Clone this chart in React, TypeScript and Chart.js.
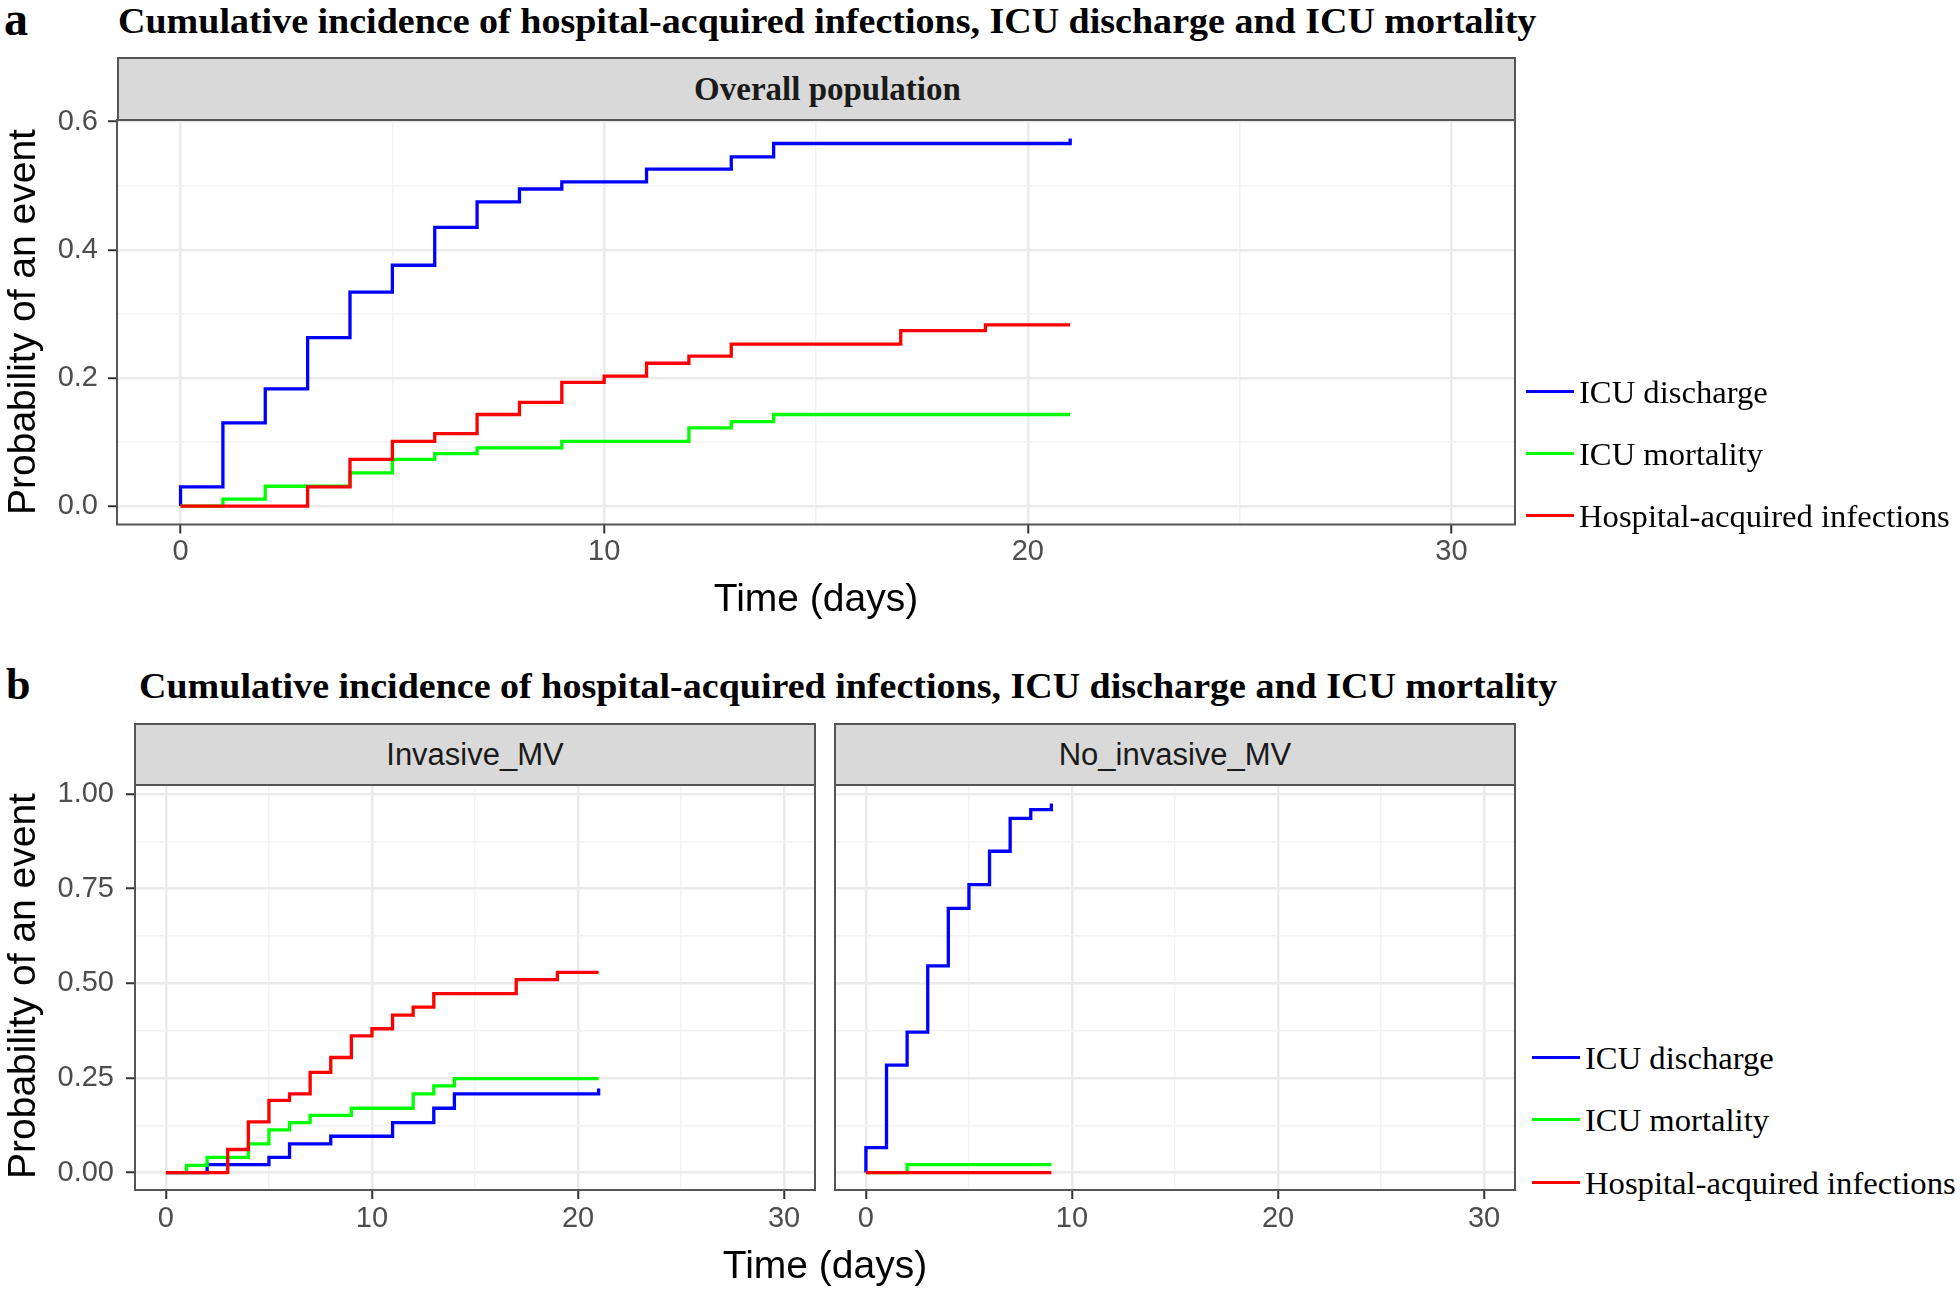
import React, { useEffect, useRef } from 'react';
import { Chart, registerables } from 'chart.js';

Chart.register(...registerables);

const SANS = '"Liberation Sans", Arial, Helvetica, sans-serif';
const SERIF = '"Liberation Serif", "Times New Roman", Times, serif';

// ---------------- text ----------------
const TITLE = 'Cumulative incidence of hospital-acquired infections, ICU discharge and ICU mortality';
const X_TITLE = 'Time (days)';
const Y_TITLE = 'Probability of an event';
const STRIP_A = 'Overall population';
const STRIP_B = ['Invasive_MV', 'No_invasive_MV'];
const seriesLabels = ['ICU discharge', 'ICU mortality', 'Hospital-acquired infections'];
const seriesColors = ['#0000ff', '#00ff00', '#ff0000'];

// ---------------- ticks ----------------
const xMajor = [0, 10, 20, 30];
const xMinor = [5, 15, 25];
const aYMajor = [0, 0.2, 0.4, 0.6];
const aYMinor = [0.1, 0.3, 0.5];
const bYMajor = [0, 0.25, 0.5, 0.75, 1];
const bYMinor = [0.125, 0.375, 0.625, 0.875];

// ---------------- data: panel a (overall population) ----------------
const aDischargeT = [0, 0, 1, 2, 3, 4, 5, 6, 7, 8, 9, 11, 13, 14, 21];
const aDischargeY = [0, 0.03, 0.13, 0.183, 0.263, 0.334, 0.376, 0.435, 0.475, 0.495, 0.506, 0.526, 0.545, 0.566, 0.574];
const aMortalityT = [0, 1, 2, 4, 5, 6, 7, 9, 12, 13, 14, 21];
const aMortalityY = [0, 0.011, 0.031, 0.052, 0.073, 0.082, 0.091, 0.101, 0.122, 0.132, 0.143, 0.143];
const aInfectionT = [0, 3, 4, 5, 6, 7, 8, 9, 10, 11, 12, 13, 17, 19, 21];
const aInfectionY = [0, 0.03, 0.073, 0.101, 0.113, 0.143, 0.162, 0.193, 0.203, 0.223, 0.234, 0.253, 0.274, 0.283, 0.283];

// ---------------- data: panel b, Invasive_MV ----------------
const bInvDischargeT = [0, 2, 5, 6, 8, 11, 13, 14, 21];
const bInvDischargeY = [0, 0.021, 0.04, 0.076, 0.096, 0.132, 0.17, 0.208, 0.222];
const bInvMortalityT = [0, 1, 2, 4, 5, 6, 7, 9, 12, 13, 14, 21];
const bInvMortalityY = [0, 0.019, 0.04, 0.076, 0.113, 0.132, 0.151, 0.17, 0.208, 0.229, 0.248, 0.248];
const bInvInfectionT = [0, 3, 4, 5, 6, 7, 8, 9, 10, 11, 12, 13, 17, 19, 21];
const bInvInfectionY = [0, 0.061, 0.134, 0.191, 0.208, 0.265, 0.304, 0.361, 0.38, 0.416, 0.437, 0.473, 0.51, 0.529, 0.529];

// ---------------- data: panel b, No_invasive_MV ----------------
const bNoDischargeT = [0, 0, 1, 2, 3, 4, 5, 6, 7, 8, 9];
const bNoDischargeY = [0, 0.066, 0.284, 0.371, 0.546, 0.698, 0.761, 0.849, 0.936, 0.959, 0.975];
const bNoMortalityT = [0, 2, 9];
const bNoMortalityY = [0, 0.021, 0.021];
const bNoInfectionT = [0, 9];
const bNoInfectionY = [0, 0];

type Series = { t: number[]; y: number[] };

const toPoints = (s: Series) => s.t.map((x, i) => ({ x, y: s.y[i] }));

const borderPlugin = {
  id: 'panelBorder',
  afterDraw(chart: any) {
    const { ctx, chartArea: a } = chart;
    ctx.save();
    ctx.strokeStyle = '#555555';
    ctx.lineWidth = 2;
    ctx.strokeRect(a.left, a.top, a.right - a.left, a.bottom - a.top);
    ctx.restore();
  },
};

type PanelProps = {
  left: number;
  top: number;
  width: number;
  height: number;
  series: Series[];
  yMin: number;
  yMax: number;
  yMajor: number[];
  yMinor: number[];
  yDigits: number;
  showYAxis: boolean;
  yAxisWidth: number;
  xAxisHeight: number;
  padTop: number;
  padRight: number;
  yLabelPad: number;
  xLabelPad: number;
};

function Panel(p: PanelProps) {
  const ref = useRef<HTMLCanvasElement | null>(null);
  useEffect(() => {
    const canvas = ref.current;
    if (!canvas) return;
    const xTicks = [...xMajor, ...xMinor].sort((a, b) => a - b);
    const yTicks = [...p.yMajor, ...p.yMinor].sort((a, b) => a - b);
    const isXMajor = (v: number) => xMajor.includes(v);
    const isYMajor = (v: number) => p.yMajor.includes(v);
    const tickFont = { family: SANS, size: 29 };
    const datasets = p.series.map((s, i) => ({
      label: seriesLabels[i],
      data: toPoints(s),
      borderColor: seriesColors[i],
      backgroundColor: seriesColors[i],
      borderWidth: 3.3,
      pointRadius: 0,
      stepped: 'before' as const,
      fill: false,
      order: 2 - i,
    }));
    const chart = new Chart(canvas, {
      type: 'line',
      data: { datasets },
      options: {
        animation: false,
        responsive: false,
        devicePixelRatio: 1,
        events: [],
        layout: {
          autoPadding: false,
          padding: { left: 0, top: p.padTop, right: p.padRight, bottom: 0 },
        },
        plugins: {
          legend: { display: false },
          tooltip: { enabled: false },
          title: { display: false },
        },
        scales: {
          x: {
            type: 'linear',
            min: -1.5,
            max: 31.5,
            afterBuildTicks: (s: any) => {
              s.ticks = xTicks.map((v) => ({ value: v }));
            },
            afterFit: (s: any) => {
              s.height = p.xAxisHeight;
              s.paddingLeft = 0;
              s.paddingRight = 0;
            },
            border: { display: false },
            ticks: {
              autoSkip: false,
              maxRotation: 0,
              minRotation: 0,
              padding: p.xLabelPad,
              color: '#4d4d4d',
              font: tickFont,
              callback: (v: any) => (isXMajor(Number(v)) ? String(v) : ''),
            },
            grid: {
              drawOnChartArea: true,
              drawTicks: true,
              tickLength: 9,
              tickWidth: 2,
              color: (c: any) => (isXMajor(c.tick?.value) ? '#ebebeb' : '#f3f3f3'),
              lineWidth: (c: any) => (isXMajor(c.tick?.value) ? 2.5 : 1.5),
              tickColor: (c: any) => (isXMajor(c.tick?.value) ? '#333333' : 'rgba(0,0,0,0)'),
            },
          },
          y: {
            type: 'linear',
            min: p.yMin,
            max: p.yMax,
            afterBuildTicks: (s: any) => {
              s.ticks = yTicks.map((v) => ({ value: v }));
            },
            afterFit: (s: any) => {
              s.width = p.yAxisWidth;
              s.paddingTop = 0;
              s.paddingBottom = 0;
            },
            border: { display: false },
            ticks: {
              display: p.showYAxis,
              autoSkip: false,
              padding: p.yLabelPad,
              color: '#4d4d4d',
              font: tickFont,
              callback: (v: any) => (isYMajor(Number(v)) ? Number(v).toFixed(p.yDigits) : ''),
            },
            grid: {
              drawOnChartArea: true,
              drawTicks: p.showYAxis,
              tickLength: 9,
              tickWidth: 2,
              color: (c: any) => (isYMajor(c.tick?.value) ? '#ebebeb' : '#f3f3f3'),
              lineWidth: (c: any) => (isYMajor(c.tick?.value) ? 2.5 : 1.5),
              tickColor: (c: any) =>
                p.showYAxis && isYMajor(c.tick?.value) ? '#333333' : 'rgba(0,0,0,0)',
            },
          },
        },
      } as any,
      plugins: [borderPlugin],
    });
    return () => chart.destroy();
  }, []);
  return (
    <canvas
      ref={ref}
      width={p.width}
      height={p.height}
      style={{ position: 'absolute', left: p.left, top: p.top, width: p.width, height: p.height }}
    />
  );
}

type TextProps = {
  x: number;
  baseline: number;
  size: number;
  family: string;
  weight?: string;
  align?: 'left' | 'center';
  color?: string;
  stretch?: number;
  children: React.ReactNode;
};

function Txt({ x, baseline, size, family, weight = 'normal', align = 'left', color = '#000', stretch = 1, children }: TextProps) {
  const k = family === SERIF ? 0.8375 : 0.8465;
  const style: React.CSSProperties = {
    position: 'absolute',
    top: baseline - k * size,
    fontFamily: family,
    fontSize: size,
    fontWeight: weight as any,
    lineHeight: '1',
    whiteSpace: 'nowrap',
    color,
  };
  if (align === 'center') {
    style.left = x - 1000;
    style.width = 2000;
    style.textAlign = 'center';
  } else {
    style.left = x;
  }
  if (stretch !== 1) {
    style.transform = `scaleX(${stretch})`;
    style.transformOrigin = align === 'center' ? 'center center' : 'left center';
  }
  return <div style={style}>{children}</div>;
}

function YTitle({ cx, cy }: { cx: number; cy: number }) {
  return (
    <div
      style={{
        position: 'absolute',
        left: cx - 250,
        top: cy - 25,
        width: 500,
        height: 50,
        lineHeight: '50px',
        textAlign: 'center',
        transform: 'rotate(-90deg)',
        fontFamily: SANS,
        fontSize: 39,
        color: '#000',
        whiteSpace: 'nowrap',
      }}
    >
      {Y_TITLE}
    </div>
  );
}

function Strip({ left, top, width, height, text, family, size, weight, shift = 0 }: any) {
  return (
    <div
      style={{
        position: 'absolute',
        left,
        top,
        width,
        height,
        boxSizing: 'border-box',
        border: '2px solid #555555',
        background: '#d9d9d9',
        display: 'flex',
        alignItems: 'center',
        justifyContent: 'center',
        paddingLeft: shift > 0 ? shift * 2 : 0,
        fontFamily: family,
        fontSize: size,
        fontWeight: weight,
        color: '#1a1a1a',
        whiteSpace: 'nowrap',
      }}
    >
      {text}
    </div>
  );
}

function Legend({ rows, lineX, textX }: { rows: number[]; lineX: number; textX: number }) {
  return (
    <>
      {seriesLabels.map((lab, i) => (
        <React.Fragment key={lab}>
          <div
            style={{
              position: 'absolute',
              left: lineX,
              top: rows[i] - 1.5,
              width: 48,
              height: 3,
              background: seriesColors[i],
            }}
          />
          <Txt x={textX} baseline={rows[i] + 12} size={32} family={SERIF} stretch={1.02}>
            {lab}
          </Txt>
        </React.Fragment>
      ))}
    </>
  );
}

export default function App() {
  const seriesA: Series[] = [
    { t: aDischargeT, y: aDischargeY },
    { t: aMortalityT, y: aMortalityY },
    { t: aInfectionT, y: aInfectionY },
  ];
  const seriesBInv: Series[] = [
    { t: bInvDischargeT, y: bInvDischargeY },
    { t: bInvMortalityT, y: bInvMortalityY },
    { t: bInvInfectionT, y: bInvInfectionY },
  ];
  const seriesBNo: Series[] = [
    { t: bNoDischargeT, y: bNoDischargeY },
    { t: bNoMortalityT, y: bNoMortalityY },
    { t: bNoInfectionT, y: bNoInfectionY },
  ];

  return (
    <div
      style={{
        position: 'fixed',
        left: 0,
        top: 0,
        width: 1960,
        height: 1294,
        background: '#ffffff',
        overflow: 'hidden',
      }}
    >
      {/* Panel a */}
      <Panel
        left={0}
        top={110}
        width={1530}
        height={470}
        series={seriesA}
        yMin={-0.0287}
        yMax={0.6027}
        yMajor={aYMajor}
        yMinor={aYMinor}
        yDigits={1}
        showYAxis={true}
        yAxisWidth={117}
        xAxisHeight={55.5}
        padTop={10}
        padRight={15}
        yLabelPad={10}
        xLabelPad={1}
      />
      {/* Panel b */}
      <Panel
        left={0}
        top={775}
        width={830}
        height={470}
        series={seriesBInv}
        yMin={-0.046}
        yMax={1.024}
        yMajor={bYMajor}
        yMinor={bYMinor}
        yDigits={2}
        showYAxis={true}
        yAxisWidth={135}
        xAxisHeight={55}
        padTop={10}
        padRight={15}
        yLabelPad={12}
        xLabelPad={3}
      />
      <Panel
        left={826}
        top={775}
        width={700}
        height={470}
        series={seriesBNo}
        yMin={-0.046}
        yMax={1.024}
        yMajor={bYMajor}
        yMinor={bYMinor}
        yDigits={2}
        showYAxis={false}
        yAxisWidth={9}
        xAxisHeight={55}
        padTop={10}
        padRight={11}
        yLabelPad={12}
        xLabelPad={3}
      />

      {/* titles */}
      <Txt x={4} baseline={35} size={48} family={SERIF} weight="bold">a</Txt>
      <Txt x={118} baseline={33} size={35} family={SERIF} weight="bold" stretch={1.086}>{TITLE}</Txt>
      <Txt x={6} baseline={700} size={44} family={SERIF} weight="bold">b</Txt>
      <Txt x={139} baseline={698} size={35} family={SERIF} weight="bold" stretch={1.086}>{TITLE}</Txt>

      {/* strips */}
      <Strip left={117} top={57} width={1399} height={64} text={STRIP_A} family={SERIF} size={33} weight="bold" shift={11} />
      <Strip left={134} top={723} width={682} height={63} text={STRIP_B[0]} family={SANS} size={31} weight="normal" />
      <Strip left={834} top={723} width={682} height={63} text={STRIP_B[1]} family={SANS} size={31} weight="normal" />

      {/* axis titles */}
      <YTitle cx={21.5} cy={322} />
      <YTitle cx={21.5} cy={986} />
      <Txt x={816} baseline={611} size={39} family={SANS} align="center">{X_TITLE}</Txt>
      <Txt x={825} baseline={1278} size={39} family={SANS} align="center">{X_TITLE}</Txt>

      {/* legends */}
      <Legend rows={[391, 453, 515]} lineX={1526} textX={1579} />
      <Legend rows={[1057, 1119, 1182]} lineX={1532} textX={1585} />
    </div>
  );
}
